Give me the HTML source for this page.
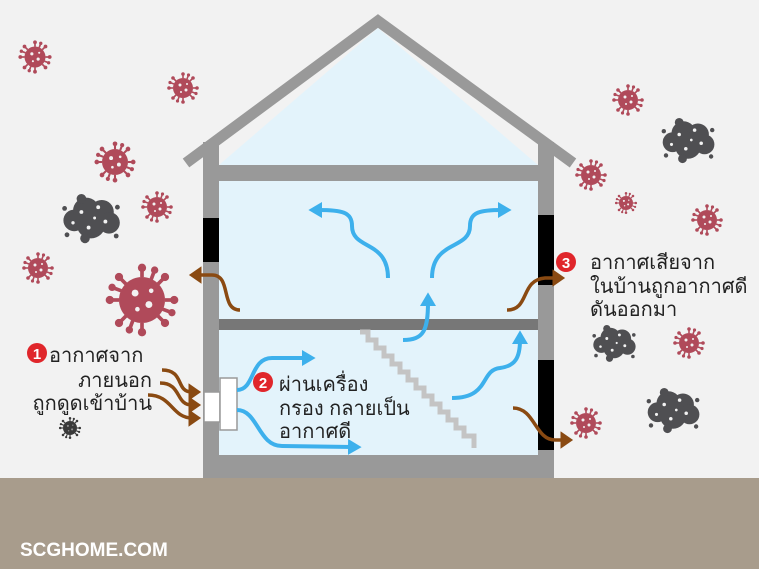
<!DOCTYPE html>
<html><head><meta charset="utf-8"><style>
html,body{margin:0;padding:0;background:#f2f2f2;}
svg{display:block;}
text{font-family:"Liberation Sans","Noto Sans CJK SC",sans-serif;}
</style></head><body>
<svg width="759" height="569" viewBox="0 0 759 569" xmlns="http://www.w3.org/2000/svg">
<defs>
<g id="v">
<g stroke="#b04a5a" stroke-width="1.6">
<line x1="0" y1="-10" x2="0" y2="-14"/><line x1="0" y1="10" x2="0" y2="14"/>
<line x1="-10" y1="0" x2="-14" y2="0"/><line x1="10" y1="0" x2="14" y2="0"/>
<line x1="7" y1="7" x2="10" y2="10"/><line x1="-7" y1="7" x2="-10" y2="10"/>
<line x1="7" y1="-7" x2="10" y2="-10"/><line x1="-7" y1="-7" x2="-10" y2="-10"/>
<line x1="4" y1="-9" x2="5.5" y2="-13"/><line x1="-4" y1="9" x2="-5.5" y2="13"/>
<line x1="9" y1="4" x2="13" y2="5.5"/><line x1="-9" y1="-4" x2="-13" y2="-5.5"/>
</g>
<g fill="#b04a5a">
<circle r="10"/>
<circle cx="0" cy="-14" r="1.8"/><circle cx="0" cy="14" r="1.8"/><circle cx="-14" cy="0" r="1.8"/><circle cx="14" cy="0" r="1.8"/>
<circle cx="10" cy="10" r="1.8"/><circle cx="-10" cy="10" r="1.8"/><circle cx="10" cy="-10" r="1.8"/><circle cx="-10" cy="-10" r="1.8"/>
<circle cx="5.5" cy="-13" r="1.6"/><circle cx="-5.5" cy="13" r="1.6"/><circle cx="13" cy="5.5" r="1.6"/><circle cx="-13" cy="-5.5" r="1.6"/>
</g>
<g fill="#f2f2f2"><circle cx="-3" cy="-3" r="1.5"/><circle cx="3" cy="2" r="1.5"/><circle cx="-2" cy="4" r="1"/><circle cx="4" cy="-4" r="1"/></g>
</g>
<g id="c" fill="#4f4f52">
<circle cx="-14" cy="2" r="9"/><circle cx="-4" cy="-6" r="11"/><circle cx="9" cy="-5" r="10"/><circle cx="15" cy="4" r="9"/><circle cx="0" cy="5" r="12"/><circle cx="-8" cy="-16" r="4"/>
<circle cx="-5" cy="17" r="4"/><circle cx="-22" cy="-8" r="2"/><circle cx="22" cy="-9" r="2"/><circle cx="21" cy="15" r="2"/><circle cx="-20" cy="14" r="2"/>
<g fill="#f2f2f2"><circle cx="-8" cy="-5" r="1.6"/><circle cx="6" cy="-9" r="1.6"/><circle cx="12" cy="3" r="1.6"/><circle cx="-2" cy="8" r="1.6"/><circle cx="-15" cy="4" r="1.4"/><circle cx="3" cy="0" r="1.2"/></g>
</g>
<marker id="ab" markerWidth="4" markerHeight="4" refX="1" refY="2" orient="auto" markerUnits="strokeWidth"><path d="M0,0 L3.4,2 L0,4 Z" fill="#3db0ec"/></marker>
<marker id="ar" markerWidth="5" markerHeight="5" refX="1" refY="2.5" orient="auto" markerUnits="strokeWidth"><path d="M0,0 L3.6,2.5 L0,5 Z" fill="#8a4a12"/></marker>
</defs>
<rect width="759" height="569" fill="#f2f2f2"/>
<polygon points="219,165 378,28 538,165 538,455 219,455" fill="#e3f3fb"/>
<polyline points="186,163 378,21 573,163" fill="none" stroke="#999" stroke-width="11"/>
<rect x="203" y="142" width="16" height="336" fill="#999"/>
<rect x="538" y="142" width="16" height="336" fill="#999"/>
<rect x="203" y="165" width="351" height="16" fill="#999"/>
<rect x="219" y="319" width="319" height="11" fill="#777"/>
<rect x="203" y="455" width="351" height="23" fill="#999"/>
<rect x="203" y="218" width="16" height="44" fill="#000"/>
<rect x="538" y="215" width="16" height="70" fill="#000"/>
<rect x="538" y="360" width="16" height="90" fill="#000"/>
<path d="M360,332 h8 v8 h8 v8 h8 v8 h8 v8 h8 v8 h8 v8 h8 v8 h8 v8 h8 v8 h8 v8 h8 v8 h8 v8 h8 v8 h10 v12" fill="none" stroke="#c4c4c4" stroke-width="5"/>
<rect x="0" y="478" width="759" height="91" fill="#a89c8c"/>
<text x="20" y="556" font-size="19" font-weight="bold" fill="#fff">SCGHOME.COM</text>
<rect x="204" y="392" width="16" height="30" fill="#fff" stroke="#999" stroke-width="1.5"/>
<rect x="220" y="378" width="17" height="52" fill="#fff" stroke="#999" stroke-width="1.5"/>
<g fill="none" stroke="#3db0ec" stroke-width="4" marker-end="url(#ab)">
<path d="M388,278 C388,240 352,250 352,226 C352,212 342,210 318,210"/>
<path d="M432,278 C432,240 470,250 470,226 C470,212 480,210 502,210"/>
<path d="M403,340 C424,340 428,330 428,302"/>
<path d="M237,390 C255,390 250,358 272,358 L306,358"/>
<path d="M237,410 C258,410 258,446 282,446 L352,447"/>
<path d="M452,398 C490,398 480,370 500,368 C515,366 520,358 520,340"/>
</g>
<g fill="none" stroke="#8a4a12" stroke-width="3.5" marker-end="url(#ar)">
<path d="M240,310 C220,310 232,275 212,275 L198,275"/>
<path d="M507,310 C530,310 520,280 545,278 L556,278"/>
<path d="M513,408 C535,408 535,440 555,440 L564,440"/>
<path d="M162,370 C185,370 175,392 192,392"/>
<path d="M160,383 C182,383 175,405 192,405"/>
<path d="M148,395 C172,395 172,418 192,418"/>
</g>
<use href="#v" transform="translate(35,57) scale(1.05)"/>
<use href="#v" transform="translate(183,88) scale(1)"/>
<use href="#v" transform="translate(115,162) scale(1.3)"/>
<use href="#v" transform="translate(157,207) scale(1)"/>
<use href="#v" transform="translate(38,268) scale(1)"/>
<use href="#v" transform="translate(142,300) scale(2.3)"/>
<use href="#v" transform="translate(628,100) scale(1)"/>
<use href="#v" transform="translate(591,175) scale(1)"/>
<use href="#v" transform="translate(626,203) scale(0.7)"/>
<use href="#v" transform="translate(707,220) scale(1)"/>
<use href="#v" transform="translate(689,343) scale(1)"/>
<use href="#v" transform="translate(586,423) scale(1)"/>
<g transform="translate(70,428) scale(0.7)"><use href="#v" style="filter:grayscale(1) brightness(0.6)"/></g>
<use href="#c" transform="translate(91,218) scale(1.2)"/>
<use href="#c" transform="translate(688,140) scale(1.1)"/>
<use href="#c" transform="translate(614,343) scale(0.9)"/>
<use href="#c" transform="translate(673,410) scale(1.1)"/>
<circle cx="37" cy="353" r="10" fill="#e0262b"/><text x="37" y="359" font-size="15" font-weight="bold" fill="#fff" text-anchor="middle">1</text>
<circle cx="263" cy="382" r="10" fill="#e0262b"/><text x="263" y="388" font-size="15" font-weight="bold" fill="#fff" text-anchor="middle">2</text>
<circle cx="566" cy="262" r="10" fill="#e0262b"/><text x="566" y="268" font-size="15" font-weight="bold" fill="#fff" text-anchor="middle">3</text>
<g font-size="20" fill="#222">
<text x="49" y="362">อากาศจาก</text>
<text x="152" y="387" text-anchor="end">ภายนอก</text>
<text x="152" y="410" text-anchor="end">ถูกดูดเข้าบ้าน</text>
<text x="279" y="391">ผ่านเครื่อง</text>
<text x="279" y="415">กรอง กลายเป็น</text>
<text x="279" y="438">อากาศดี</text>
<text x="590" y="269">อากาศเสียจาก</text>
<text x="590" y="293">ในบ้านถูกอากาศดี</text>
<text x="590" y="316">ดันออกมา</text>
</g>
</svg>
</body></html>
